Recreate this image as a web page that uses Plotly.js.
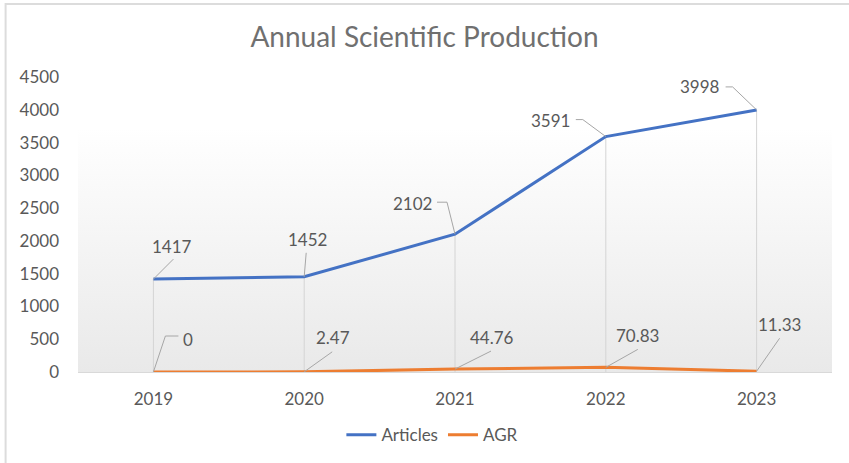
<!DOCTYPE html>
<html>
<head>
<meta charset="utf-8">
<script src="https://cdn.plot.ly/plotly-3.0.1.min.js"></script>
<style>html,body{margin:0;padding:0;background:#fff;}#chart{width:849px;height:463px;}</style>
</head>
<body>
<div id="chart"></div>
<script>
const years = ['2019', '2020', '2021', '2022', '2023'];
const articles = [1417, 1452, 2102, 3591, 3998];
const agr = [0, 2.47, 44.76, 70.83, 11.33];
const articleLabels = ['1417', '1452', '2102', '3591', '3998'];
const agrLabels = ['0', '2.47', '44.76', '70.83', '11.33'];

// label placement (pixels, relative to the point; y up)
const artLabelOffsets = [[19, 33], [3, 37], [-43, 31], [-55, 16], [-57, 23]];
const artLeaders = [[[20, 20]], [[2, 24]], [[-8, 32], [-18, 32]], [[-23, 17], [-30, 17]], [[-24, 23], [-31, 23]]];
const agrLabelOffsets = [[35, 33], [29, 34], [37, 32], [32, 32], [23, 47]];
const agrLeaders = [[[12, 36], [25, 36]], [[28, 20]], [[36, 18]], [[32, 18]], [[23, 33]]];

const FONT = 'Lato, "Open Sans", sans-serif';
const TXT = '#595959';

const traces = [
  {x: years, y: articles, name: 'Articles', type: 'scatter', mode: 'lines',
   line: {color: '#4472C4', width: 3}, hoverinfo: 'x+y'},
  {x: years, y: agr, name: 'AGR', type: 'scatter', mode: 'lines',
   line: {color: '#ED7D31', width: 3}, hoverinfo: 'x+y'}
];

const shapes = [];
// outer border
shapes.push({type: 'rect', xref: 'paper', yref: 'paper', layer: 'below',
  x0: -72.5/755, x1: 1.2, y0: -0.5, y1: 1 + 73/295, line: {color: '#dcdcdc', width: 2}, fillcolor: 'rgba(0,0,0,0)'});
// drop lines
years.forEach((yr, i) => {
  shapes.push({type: 'line', xref: 'x', yref: 'y', layer: 'below', x0: i, x1: i, y0: 0, y1: articles[i],
    line: {color: '#d4d4d4', width: 1}});
});
function leader(xi, yv, pts) {
  let p = 'M0,0';
  pts.forEach(q => { p += ' L' + q[0] + ',' + q[1]; });
  return {type: 'path', xref: 'x', yref: 'y', xsizemode: 'pixel', ysizemode: 'pixel',
    xanchor: xi, yanchor: yv, path: p, line: {color: '#a6a6a6', width: 1}};
}
years.forEach((yr, i) => {
  shapes.push(leader(i, articles[i], artLeaders[i]));
  shapes.push(leader(i, agr[i], agrLeaders[i]));
});

const annotations = [];
years.forEach((yr, i) => {
  annotations.push({x: i, y: articles[i], xref: 'x', yref: 'y', text: articleLabels[i], showarrow: false,
    xshift: artLabelOffsets[i][0], yshift: artLabelOffsets[i][1], font: {family: FONT, size: 17, color: TXT}});
  annotations.push({x: i, y: agr[i], xref: 'x', yref: 'y', text: agrLabels[i], showarrow: false,
    xshift: agrLabelOffsets[i][0], yshift: agrLabelOffsets[i][1], font: {family: FONT, size: 17, color: TXT}});
});

const grad = 'data:image/svg+xml;utf8,' + encodeURIComponent(
  '<svg xmlns="http://www.w3.org/2000/svg" width="100" height="100" preserveAspectRatio="none">' +
  '<defs><linearGradient id="g" x1="0" y1="0" x2="0" y2="1">' +
  '<stop offset="0" stop-color="#ffffff"/><stop offset="1" stop-color="#e9e9e9"/></linearGradient></defs>' +
  '<rect width="100" height="100" fill="url(#g)"/></svg>');

const layout = {
  width: 849, height: 463,
  margin: {l: 77.5, r: 16.5, t: 77, b: 91, autoexpand: false},
  paper_bgcolor: '#ffffff', plot_bgcolor: 'rgba(0,0,0,0)',
  title: {text: 'Annual Scientific Production', x: 0.5, xanchor: 'center', y: 0.92, yanchor: 'middle', yref: 'container',
    font: {family: FONT, size: 28, color: '#707070'}},
  xaxis: {type: 'category', range: [-0.5, 4.5], showgrid: false, zeroline: false,
    showline: true, linecolor: '#d9d9d9', linewidth: 1, ticks: '', ticklabelstandoff: 12,
    tickfont: {family: FONT, size: 17, color: TXT}, fixedrange: true, automargin: false},
  yaxis: {range: [0, 4500], dtick: 500, showgrid: false, zeroline: false, showline: false,
    ticks: '', ticklabelstandoff: 18, tickfont: {family: FONT, size: 17, color: TXT}, fixedrange: true, automargin: false},
  showlegend: true,
  legend: {orientation: 'h', x: 0.47, xanchor: 'center', yref: 'container', y: 0.06, yanchor: 'middle',
    font: {family: FONT, size: 17, color: TXT}, itemwidth: 30},
  images: [{source: grad, xref: 'paper', yref: 'y', x: 0, y: 3720, sizex: 1, sizey: 3720,
    xanchor: 'left', yanchor: 'top', sizing: 'stretch', layer: 'below'}],
  shapes: shapes,
  annotations: annotations
};

Plotly.newPlot('chart', traces, layout, {displayModeBar: false, staticPlot: true});
</script>
</body>
</html>
